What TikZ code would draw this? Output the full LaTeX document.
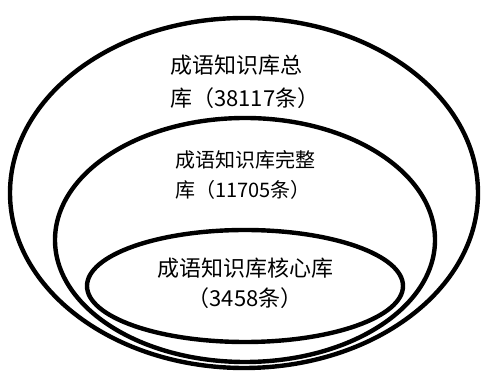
\documentclass[tikz,border=0pt]{standalone}
\usepackage{fontspec}
\setmainfont{Noto Sans CJK SC}
\usetikzlibrary{shapes.geometric}
\begin{document}
\begin{tikzpicture}[x=1pt,y=1pt,
  ring/.style={ellipse, draw=black, line width=4.4pt, inner sep=0pt},
  lbl/.style={inner sep=0pt, text=black}]
\useasboundingbox (0,0) rectangle (481,371);
\node[ring, minimum width=468pt, minimum height=350pt] (outer) at (244,178) {};
\node[ring, minimum width=380pt, minimum height=244pt] (middle) at (245,131) {};
\node[ring, minimum width=316pt, minimum height=112pt] (inner) at (245,85) {};
\node[lbl, anchor=west, align=left, font=\fontsize{22}{33}\selectfont] (t1) at (170,289) {成语知识库总\\库（38117条）};
\node[lbl, anchor=west, align=left, font=\fontsize{20}{30}\selectfont] (t2) at (175,196) {成语知识库完整\\库（11705条）};
\node[lbl, align=center, font=\fontsize{22}{30}\selectfont] (t3) at (245,88) {成语知识库核心库\\（3458条）};
\end{tikzpicture}
\end{document}
